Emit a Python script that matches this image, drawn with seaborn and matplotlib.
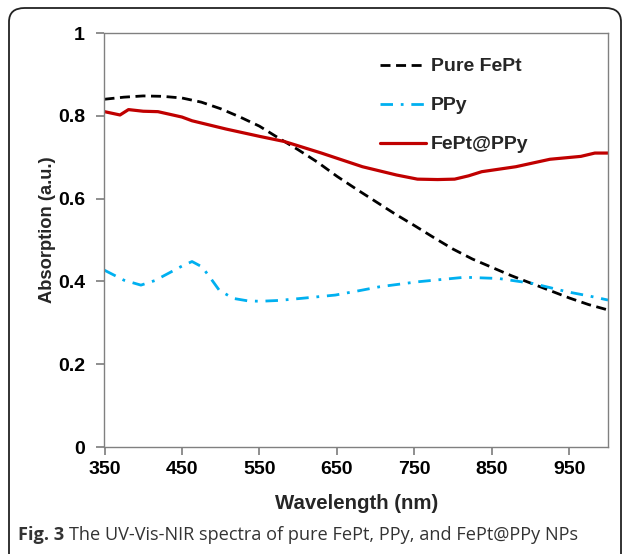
import numpy as np
import pandas as pd
import seaborn as sns
import matplotlib
matplotlib.use("Agg")
import matplotlib.pyplot as plt
from matplotlib.patches import FancyBboxPatch

# ---- data ----
fept_wl = [350, 375, 400, 425, 450, 475, 500, 525, 550, 575, 600, 625, 650, 675,
           700, 725, 750, 775, 800, 825, 850, 875, 900, 925, 950, 975, 1000]
fept_abs = [0.840, 0.845, 0.848, 0.847, 0.843, 0.833, 0.817, 0.797, 0.775, 0.746,
            0.718, 0.688, 0.654, 0.623, 0.593, 0.563, 0.535, 0.506, 0.478, 0.454,
            0.434, 0.414, 0.396, 0.378, 0.360, 0.344, 0.331]

ppy_wl = [350, 375, 397, 415, 432, 450, 463, 476, 488, 498, 516, 535, 551, 575,
          604, 648, 680, 705, 754, 815, 859, 903, 947, 975, 1000]
ppy_abs = [0.427, 0.403, 0.391, 0.402, 0.419, 0.437, 0.448, 0.435, 0.405, 0.379,
           0.359, 0.353, 0.352, 0.354, 0.359, 0.367, 0.378, 0.387, 0.399, 0.410,
           0.407, 0.395, 0.375, 0.365, 0.355]

fp_wl = [350, 360, 370, 381, 400, 419, 450, 463, 507, 551, 582, 630, 683, 727,
         754, 780, 802, 820, 837, 881, 925, 965, 983, 1000]
fp_abs = [0.810, 0.806, 0.802, 0.815, 0.811, 0.810, 0.797, 0.788, 0.768, 0.750,
          0.738, 0.710, 0.677, 0.657, 0.647, 0.646, 0.647, 0.655, 0.665, 0.677,
          0.695, 0.702, 0.710, 0.710]

series_names = ["Pure FePt", "PPy", "FePt@PPy"]
x_ticks = [350, 450, 550, 650, 750, 850, 950]
y_ticks = [0, 0.2, 0.4, 0.6, 0.8, 1]
y_tick_labels = ["0", "0.2", "0.4", "0.6", "0.8", "1"]

# ---- figure ----
sns.set_theme(style="ticks")
plt.rcParams["font.family"] = ["Liberation Sans", "DejaVu Sans"]

W, H = 625, 554
fig = plt.figure(figsize=(W / 100, H / 100), dpi=100)
ax = fig.add_axes([104.5 / W, (H - 447) / H, (608 - 104.5) / W, (447 - 33) / H])

df1 = pd.DataFrame({"wl": fept_wl, "a": fept_abs})
df2 = pd.DataFrame({"wl": ppy_wl, "a": ppy_abs})
df3 = pd.DataFrame({"wl": fp_wl, "a": fp_abs})

sns.lineplot(data=df1, x="wl", y="a", ax=ax, color="black", lw=2.0,
             label=series_names[0], linestyle=(0, (3.6, 2.0)))
sns.lineplot(data=df2, x="wl", y="a", ax=ax, color="#00B0F0", lw=2.0,
             label=series_names[1], linestyle=(0, (4.5, 2.8, 1, 2.8)))
sns.lineplot(data=df3, x="wl", y="a", ax=ax, color="#C00000", lw=2.3,
             label=series_names[2])

ax.set_xlim(350, 1000)
ax.set_ylim(0, 1)
ax.set_xticks(x_ticks)
ax.set_yticks(y_ticks)
ax.set_yticklabels(y_tick_labels)
for lbl in ax.get_xticklabels() + ax.get_yticklabels():
    lbl.set_fontweight("bold")
    lbl.set_fontsize(14)
ax.tick_params(axis="both", which="major", direction="out", length=6, width=1.1,
               color="#707070", labelcolor="black", bottom=True, left=True,
               top=False, right=False, pad=4)
ax.tick_params(axis="y", pad=8)
for s in ax.spines.values():
    s.set_visible(True)
    s.set_color("#808080")
    s.set_linewidth(1)

ax.set_xlabel("Wavelength (nm)", fontsize=14.7, fontweight="bold")
ax.set_ylabel("Absorption (a.u.)", fontsize=13.2, fontweight="bold")
ax.xaxis.set_label_coords(0.5, -0.113)
ax.yaxis.set_label_coords(-0.097, 0.525)

leg = ax.legend(loc="upper left", bbox_to_anchor=((380 - 104.5) / 503.5, 0.940),
                frameon=False, prop={"weight": "bold", "size": 14},
                handlelength=2.35, handletextpad=0.25, labelspacing=1.1,
                borderaxespad=0, borderpad=0)

# caption
cap_y = 1 - 535 / H
t1 = fig.text(18 / W, cap_y, "Fig. 3", fontsize=13.05, fontweight="bold",
              color="#333333", va="center", ha="left",
              family=["Open Sans", "DejaVu Sans"])
fig.canvas.draw()
bb = t1.get_window_extent()
fig.text((bb.x1 + 5) / W, cap_y,
         "The UV-Vis-NIR spectra of pure FePt, PPy, and FePt@PPy NPs",
         fontsize=13.05, color="#333333", va="center", ha="left",
         family=["Open Sans", "DejaVu Sans"])

# rounded border
box = FancyBboxPatch((9 / W, -20 / H), (621 - 9) / W, (H - 8 + 20) / H,
                     boxstyle="round,pad=0,rounding_size=0.025",
                     transform=fig.transFigure, fill=False, ec="#222222",
                     lw=1.3, clip_on=False)
fig.patches.append(box)

fig.savefig("out.png", dpi=100)
